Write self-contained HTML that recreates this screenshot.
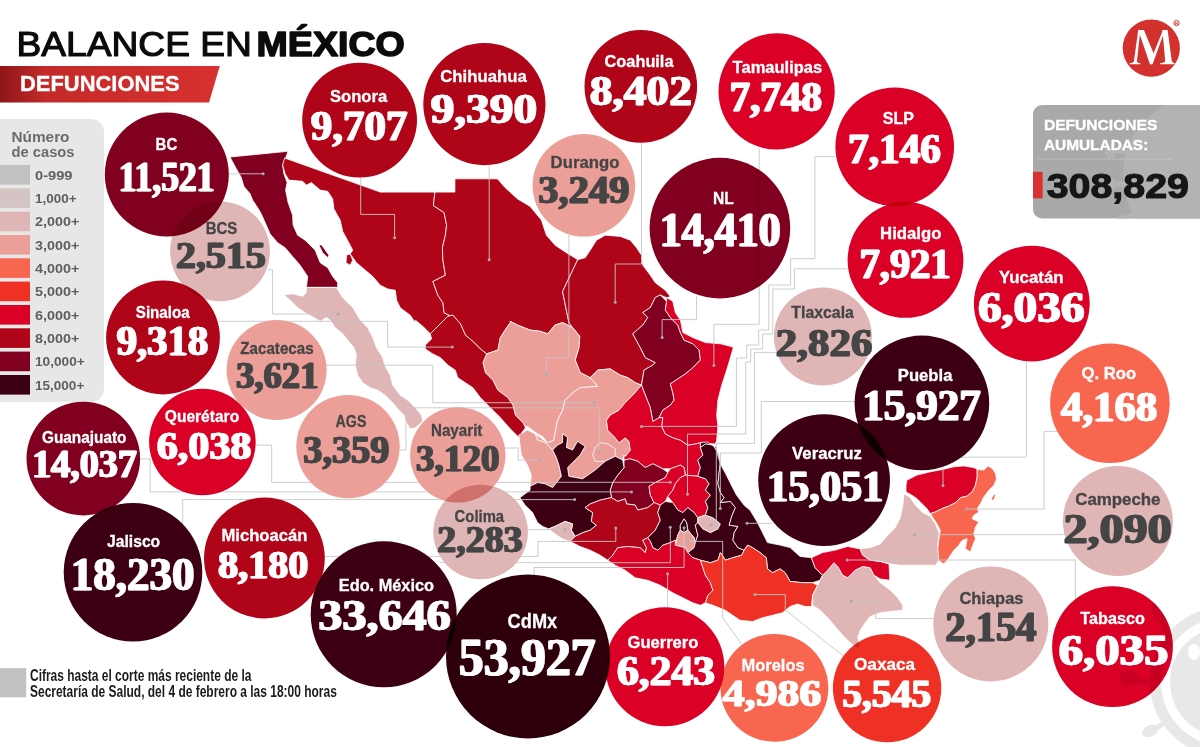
<!DOCTYPE html>
<html lang="es"><head><meta charset="utf-8"><title>Balance en México</title>
<style>
html,body{margin:0;padding:0;background:#fff;}
body{width:1200px;height:747px;overflow:hidden;font-family:"Liberation Sans",sans-serif;}
svg{display:block;}
.lab{font-family:"Liberation Sans",sans-serif;font-weight:bold;}
.num{font-family:"Liberation Serif",serif;font-weight:bold;}
.bub{mix-blend-mode:multiply;}
</style></head><body>
<svg width="1200" height="747" viewBox="0 0 1200 747">
<defs>
<linearGradient id="bg1" x1="0" x2="1" y1="0" y2="0"><stop offset="0" stop-color="#8f1518"/><stop offset="0.2" stop-color="#c32a29"/><stop offset="1" stop-color="#d8312f"/></linearGradient>
<mask id="lm" maskUnits="userSpaceOnUse" x="0" y="0" width="1200" height="747"><rect width="1200" height="747" fill="#fff"/><circle cx="166.8" cy="174.5" r="62" fill="#000"/><circle cx="220" cy="251.3" r="49.9" fill="#000"/><circle cx="359.6" cy="120.1" r="57.4" fill="#000"/><circle cx="484.4" cy="104.1" r="61.1" fill="#000"/><circle cx="640.8" cy="86.4" r="56.3" fill="#000"/><circle cx="776.6" cy="91.4" r="58.1" fill="#000"/><circle cx="583.9" cy="185.3" r="51.3" fill="#000"/><circle cx="719.9" cy="228.1" r="70.3" fill="#000"/><circle cx="894.7" cy="146.7" r="59.3" fill="#000"/><circle cx="905.5" cy="259.9" r="57.9" fill="#000"/><circle cx="1031.8" cy="303.6" r="57.9" fill="#000"/><circle cx="822.9" cy="336.4" r="49" fill="#000"/><circle cx="824.1" cy="480.1" r="65.9" fill="#000"/><circle cx="921.9" cy="402.9" r="67.3" fill="#000"/><circle cx="1109.9" cy="403.2" r="59.8" fill="#000"/><circle cx="1117.9" cy="521" r="55" fill="#000"/><circle cx="990.8" cy="623.9" r="57.5" fill="#000"/><circle cx="1112.5" cy="646.7" r="60.4" fill="#000"/><circle cx="887.1" cy="688.1" r="54.2" fill="#000"/><circle cx="774.4" cy="687.9" r="53.9" fill="#000"/><circle cx="664.8" cy="666.8" r="59.5" fill="#000"/><circle cx="163" cy="337.5" r="56.9" fill="#000"/><circle cx="276.6" cy="370" r="50" fill="#000"/><circle cx="202.4" cy="442" r="53.3" fill="#000"/><circle cx="348" cy="446.6" r="51.7" fill="#000"/><circle cx="457.8" cy="454.9" r="47.7" fill="#000"/><circle cx="480.6" cy="532" r="47.3" fill="#000"/><circle cx="83.3" cy="458.6" r="56.8" fill="#000"/><circle cx="133" cy="572.3" r="69.3" fill="#000"/><circle cx="264.4" cy="558" r="60.4" fill="#000"/><circle cx="383.7" cy="614.3" r="73" fill="#000"/><circle cx="528" cy="656.4" r="82" fill="#000"/></mask>
</defs>
<rect width="1200" height="747" fill="#fff"/>

<text x="16.5" y="56.4" font-size="34.6" fill="#0b0b0b" stroke="#0b0b0b" stroke-width="1.15" stroke-linejoin="round" textLength="235.4" lengthAdjust="spacingAndGlyphs">BALANCE EN</text>
<text x="256.5" y="56.4" font-size="34.6" font-weight="bold" fill="#0b0b0b" stroke="#0b0b0b" stroke-width="1.5" stroke-linejoin="round" textLength="148.3" lengthAdjust="spacingAndGlyphs">MÉXICO</text>
<path d="M0 66.1 H219.8 L209 102.5 H0 Z" fill="url(#bg1)"/>
<text x="20" y="91.3" font-size="21.7" font-weight="bold" fill="#fff" stroke="#fff" stroke-width="0.3" textLength="159.6" lengthAdjust="spacingAndGlyphs">DEFUNCIONES</text>

<path d="M0 119 H91 a13 13 0 0 1 13 13 V389 a13 13 0 0 1 -13 13 H0 Z" fill="#e7e7e7"/>
<text class="lab" x="11.5" y="142" font-size="14" fill="#6b6b6b" textLength="58" lengthAdjust="spacingAndGlyphs">Número</text>
<text class="lab" x="11.5" y="156.7" font-size="14" fill="#6b6b6b" textLength="63" lengthAdjust="spacingAndGlyphs">de casos</text>
<rect x="0" y="165.0" width="30" height="19.6" fill="#c1c1c1"/>
<text class="lab" x="35" y="179.7" font-size="13" fill="#5f5f5f" textLength="37.5" lengthAdjust="spacingAndGlyphs">0-999</text>
<rect x="0" y="188.3" width="30" height="19.6" fill="#d5c4c4"/>
<text class="lab" x="35" y="203.0" font-size="13" fill="#5f5f5f" textLength="41.5" lengthAdjust="spacingAndGlyphs">1,000+</text>
<rect x="0" y="211.7" width="30" height="19.6" fill="#e0b5b5"/>
<text class="lab" x="35" y="226.4" font-size="13" fill="#5f5f5f" textLength="44.3" lengthAdjust="spacingAndGlyphs">2,000+</text>
<rect x="0" y="235.0" width="30" height="19.6" fill="#ec9e99"/>
<text class="lab" x="35" y="249.7" font-size="13" fill="#5f5f5f" textLength="44.3" lengthAdjust="spacingAndGlyphs">3,000+</text>
<rect x="0" y="258.3" width="30" height="19.6" fill="#f8664f"/>
<text class="lab" x="35" y="273.0" font-size="13" fill="#5f5f5f" textLength="44.3" lengthAdjust="spacingAndGlyphs">4,000+</text>
<rect x="0" y="281.6" width="30" height="19.6" fill="#ee3124"/>
<text class="lab" x="35" y="296.3" font-size="13" fill="#5f5f5f" textLength="44.3" lengthAdjust="spacingAndGlyphs">5,000+</text>
<rect x="0" y="305.0" width="30" height="19.6" fill="#da0026"/>
<text class="lab" x="35" y="319.7" font-size="13" fill="#5f5f5f" textLength="44.3" lengthAdjust="spacingAndGlyphs">6,000+</text>
<rect x="0" y="328.3" width="30" height="19.6" fill="#b00418"/>
<text class="lab" x="35" y="343.0" font-size="13" fill="#5f5f5f" textLength="44.3" lengthAdjust="spacingAndGlyphs">8,000+</text>
<rect x="0" y="351.6" width="30" height="19.6" fill="#81001f"/>
<text class="lab" x="35" y="366.3" font-size="13" fill="#5f5f5f" textLength="49.7" lengthAdjust="spacingAndGlyphs">10,000+</text>
<rect x="0" y="375.0" width="30" height="19.6" fill="#3d0012"/>
<text class="lab" x="35" y="389.7" font-size="13" fill="#5f5f5f" textLength="49.3" lengthAdjust="spacingAndGlyphs">15,000+</text>
<g id="map"><polygon points="230.0,157.0 288.1,151.3 285.6,158.0 282.6,165.0 283.9,173.8 287.1,182.6 285.6,190.1 288.1,202.6 292.6,215.1 293.1,225.1 297.6,235.2 305.1,240.2 315.2,250.2 320.2,262.7 327.7,267.7 332.7,276.5 337.7,282.7 337.7,287.3 306.4,287.3 307.7,276.5 300.1,265.2 292.6,256.5 285.1,247.7 277.6,242.7 270.1,233.9 265.1,222.6 261.3,213.9 257.6,207.6 252.6,200.1 250.1,193.8 243.8,186.3 241.3,177.6 236.3,168.8" fill="#81001f" stroke="#fff" stroke-width="0.8" stroke-linejoin="round"/>
<polygon points="284.6,158.0 380.3,192.1 434.9,192.1 433.4,205.6 444.1,212.6 446.6,225.1 445.4,235.2 442.4,247.7 442.9,260.2 445.4,275.2 432.9,281.5 437.9,295.3 442.9,302.8 444.1,312.8 449.2,315.3 447.8,316.3 430.3,333.8 422.8,326.3 415.3,320.1 415.3,322.8 410.3,315.3 400.3,307.8 396.6,300.3 395.3,290.3 387.8,289.0 380.3,285.3 372.8,276.5 365.3,270.2 356.5,262.7 350.2,253.9 352.7,250.2 350.2,245.2 342.7,231.4 340.2,220.1 333.9,208.9 332.7,198.9 327.7,191.3 320.2,190.1 311.4,182.6 306.4,185.1 302.6,181.3 288.9,180.1 285.1,173.8 282.6,165.0" fill="#b00418" stroke="#fff" stroke-width="0.8" stroke-linejoin="round"/>
<polygon points="346.5,255.2 350.2,253.9 352.7,260.2 350.2,265.2 346.0,262.7" fill="#b00418" stroke="#fff" stroke-width="0.8" stroke-linejoin="round"/>
<polygon points="318.9,245.2 321.4,244.7 328.9,255.2 327.7,257.7 322.7,252.7" fill="#81001f" stroke="#fff" stroke-width="0.8" stroke-linejoin="round"/>
<polygon points="434.9,192.1 454.9,192.1 454.9,178.8 498.0,178.8 497.5,178.8 505.0,187.6 517.6,198.9 530.1,206.4 541.4,220.1 546.4,235.2 555.1,245.2 566.4,252.7 577.7,259.7 562.6,291.5 568.9,322.6 572.7,327.6 562.6,322.6 555.1,325.1 547.6,333.8 540.1,331.3 530.1,330.1 517.6,325.1 510.1,321.3 510.4,322.6 506.7,327.6 500.4,337.6 497.9,350.1 486.6,353.9 480.4,348.9 472.9,341.4 465.4,335.1 460.4,323.8 452.8,315.1 447.8,316.3 449.2,315.3 444.1,312.8 442.9,302.8 437.9,295.3 432.9,281.5 445.4,275.2 442.9,260.2 442.4,247.7 445.4,235.2 446.6,225.1 444.1,212.6 433.4,205.6" fill="#b00418" stroke="#fff" stroke-width="0.8" stroke-linejoin="round"/>
<polygon points="577.7,259.7 585.2,257.7 590.2,250.2 596.5,240.2 605.2,235.2 620.2,236.4 630.3,240.2 636.5,247.7 641.5,255.2 642.8,265.2 650.3,275.2 655.3,282.7 665.3,290.3 670.3,296.5 666.6,297.8 660.3,295.0 655.3,297.5 650.3,307.5 642.8,312.5 647.8,317.5 642.8,325.1 632.8,333.8 640.3,347.6 645.3,357.6 655.3,362.6 652.8,365.1 644.0,370.1 641.5,385.2 635.3,382.7 627.8,377.7 620.2,375.1 610.2,368.9 597.7,370.1 590.2,377.7 580.2,372.6 575.2,360.1 578.9,347.6 579.7,336.3 572.7,327.6 568.9,322.6 562.6,291.5" fill="#b00418" stroke="#fff" stroke-width="0.8" stroke-linejoin="round"/>
<polygon points="660.3,295.0 666.6,301.3 665.3,310.0 670.3,317.5 677.8,325.1 680.4,332.6 684.1,340.1 692.9,343.8 699.1,350.1 700.4,360.1 692.9,367.6 685.4,373.9 677.8,378.9 670.3,383.9 672.8,392.7 674.1,400.2 670.3,405.2 662.8,410.2 659.1,417.7 652.8,421.5 650.3,407.7 645.3,395.2 641.5,385.2 644.0,370.1 652.8,365.1 655.3,362.6 645.3,357.6 640.3,347.6 632.8,333.8 642.8,325.1 647.8,317.5 642.8,312.5 650.3,307.5 655.3,297.5" fill="#81001f" stroke="#fff" stroke-width="0.8" stroke-linejoin="round"/>
<polygon points="666.6,297.5 672.8,301.3 675.3,312.5 680.4,320.1 682.9,332.6 692.9,337.6 705.4,342.6 720.4,343.8 730.4,346.3 733.4,347.6 730.4,357.6 726.7,370.1 721.7,385.2 717.9,400.2 716.7,415.2 717.9,426.5 716.7,440.3 715.4,444.0 700.4,442.8 695.4,444.0 687.9,445.3 680.4,440.3 672.8,437.8 665.3,434.0 661.6,426.5 662.8,417.7 659.1,417.7 662.8,410.2 670.3,405.2 674.1,400.2 672.8,392.7 670.3,383.9 677.8,378.9 685.4,373.9 692.9,367.6 700.4,360.1 699.1,350.1 692.9,343.8 684.1,340.1 680.4,332.6 677.8,325.1 670.3,317.5 665.3,310.0 666.6,301.3" fill="#da0026" stroke="#fff" stroke-width="0.8" stroke-linejoin="round"/>
<polygon points="510.1,321.3 517.6,325.1 530.1,330.1 540.1,331.3 547.6,333.8 555.1,325.1 562.6,322.6 572.7,327.6 579.7,336.3 578.9,347.6 575.2,360.1 580.2,372.6 590.2,377.7 597.7,386.4 580.2,387.7 572.7,392.7 565.1,400.2 562.6,410.2 557.6,420.2 555.1,432.7 553.9,440.3 547.6,442.8 542.6,436.5 537.6,434.0 532.6,430.2 527.6,426.5 522.6,426.5 525.5,427.8 523.0,422.7 515.4,415.2 512.9,405.2 507.9,397.7 497.9,390.2 492.9,380.2 485.4,372.7 482.9,362.6 486.6,353.9 497.9,350.1 500.4,337.6 506.7,327.6 510.4,322.6" fill="#ec9e99" stroke="#fff" stroke-width="0.8" stroke-linejoin="round"/>
<polygon points="447.8,316.3 452.8,315.1 460.4,323.8 465.4,335.1 472.9,341.4 480.4,348.9 486.6,353.9 482.9,362.6 485.4,372.7 492.9,380.2 497.9,390.2 507.9,397.7 512.9,405.2 515.4,415.2 523.0,422.7 525.5,427.8 521.7,432.8 523.0,440.3 518.0,436.5 510.4,429.0 500.4,417.7 490.4,407.7 480.4,397.7 472.9,387.7 465.4,382.7 457.8,377.7 455.3,370.2 447.8,365.1 440.3,357.6 432.8,353.9 425.3,348.9 425.3,345.1 431.6,338.9 430.3,333.8" fill="#b00418" stroke="#fff" stroke-width="0.8" stroke-linejoin="round"/>
<polygon points="306.3,287.5 336.4,287.5 342.6,297.5 352.7,307.5 360.2,320.1 367.7,327.6 372.7,337.6 376.5,347.6 382.7,357.6 385.2,366.4 390.2,375.2 392.7,385.2 400.2,395.2 407.8,400.2 415.3,407.7 421.5,415.2 422.8,421.5 415.3,427.8 410.3,429.0 406.5,422.7 404.0,415.2 399.0,410.2 392.7,402.7 385.2,395.2 377.7,390.2 370.2,387.7 362.7,382.7 357.7,375.2 355.2,365.1 356.4,355.1 353.9,347.6 347.7,340.1 342.6,333.8 335.1,327.6 330.1,320.1 326.4,317.6 320.1,321.3 313.8,317.6 305.1,312.6 297.6,307.5 290.1,300.0 283.8,295.0 292.6,293.8 302.6,296.3 306.3,292.5" fill="#e0b5b5" stroke="#fff" stroke-width="0.8" stroke-linejoin="round"/>
<polygon points="597.7,370.1 610.2,368.9 620.2,375.1 627.8,377.7 635.3,382.7 641.5,385.2 632.8,395.2 625.3,402.7 619.0,410.2 610.2,415.2 606.5,420.2 607.7,430.2 615.2,437.8 619.0,442.8 625.3,437.8 629.0,441.5 630.3,450.3 625.3,456.5 624.0,455.0 622.7,460.1 615.2,456.3 605.2,461.3 595.2,470.1 582.6,478.8 568.9,476.3 567.6,467.6 572.6,462.6 580.1,455.0 585.1,446.3 577.6,441.3 572.6,450.0 566.4,447.5 567.6,437.5 562.6,433.8 562.6,442.5 557.6,445.0 552.6,450.0 545.1,442.5 537.6,440.0 535.1,433.8 547.6,442.8 553.9,440.3 555.1,432.7 557.6,420.2 562.6,410.2 565.1,400.2 572.7,392.7 580.2,387.7 597.7,386.4 590.2,377.7" fill="#ec9e99" stroke="#fff" stroke-width="0.8" stroke-linejoin="round"/>
<polygon points="600.2,442.5 607.7,443.8 615.2,448.8 615.2,456.3 605.2,461.3 595.2,461.3 592.7,455.0 595.2,447.5" fill="#ec9e99" stroke="#fff" stroke-width="0.8" stroke-linejoin="round"/>
<polygon points="518.8,435.0 527.5,430.0 535.1,433.8 537.6,440.0 545.1,442.5 552.6,450.0 556.3,457.5 558.9,465.1 561.4,476.3 552.6,487.6 545.1,483.8 537.6,482.6 530.1,486.3 531.3,475.1 527.5,465.1 521.3,455.0 520.0,445.0" fill="#ec9e99" stroke="#fff" stroke-width="0.8" stroke-linejoin="round"/>
<polygon points="641.5,385.2 645.3,395.2 650.3,407.7 652.8,421.5 659.1,417.7 662.8,417.7 661.6,426.5 665.3,434.0 672.8,437.8 680.4,440.3 687.9,445.3 695.4,444.0 700.4,442.8 700.4,447.5 702.9,455.0 697.8,460.1 700.4,467.6 697.8,476.3 685.3,475.1 684.1,467.6 680.3,465.1 670.3,468.8 662.8,468.8 652.8,463.8 645.3,467.6 637.7,461.3 630.2,458.8 624.0,460.1 624.0,455.0 625.3,456.5 630.3,450.3 629.0,441.5 625.3,437.8 619.0,442.8 615.2,437.8 607.7,430.2 606.5,420.2 610.2,415.2 619.0,410.2 625.3,402.7 632.8,395.2" fill="#da0026" stroke="#fff" stroke-width="0.8" stroke-linejoin="round"/>
<polygon points="624.0,460.1 630.2,458.8 637.7,461.3 645.3,467.6 652.8,463.8 662.8,468.8 667.8,472.6 665.3,477.6 655.3,482.6 649.0,486.3 650.3,495.1 654.0,502.6 647.8,507.6 637.7,510.1 635.2,505.1 626.5,503.9 625.2,498.9 617.7,501.4 611.4,497.6 610.2,490.1 612.7,482.6 617.7,475.1 624.0,467.6" fill="#81001f" stroke="#fff" stroke-width="0.8" stroke-linejoin="round"/>
<polygon points="667.8,472.6 670.3,468.8 680.3,465.1 684.1,467.6 685.3,475.1 680.3,477.6 675.3,483.8 672.8,490.1 667.8,496.4 665.3,501.4 660.3,505.1 654.0,502.6 650.3,495.1 649.0,486.3 655.3,482.6 665.3,477.6" fill="#da0026" stroke="#fff" stroke-width="0.8" stroke-linejoin="round"/>
<polygon points="685.3,475.1 697.8,476.3 705.4,478.8 709.1,483.8 705.4,490.1 710.4,495.1 705.4,501.4 707.9,507.6 705.4,515.1 697.8,517.7 694.1,512.6 687.8,507.6 682.8,512.6 677.8,510.1 672.8,502.6 667.8,496.4 672.8,490.1 675.3,483.8 680.3,477.6" fill="#da0026" stroke="#fff" stroke-width="0.8" stroke-linejoin="round"/>
<polygon points="562.6,433.8 567.6,437.5 566.4,447.5 572.6,450.0 577.6,441.3 585.1,446.3 580.1,455.0 572.6,462.6 567.6,467.6 568.9,476.3 582.6,478.8 595.2,470.1 605.2,461.3 615.2,456.3 622.7,460.1 624.0,467.6 617.7,475.1 612.7,482.6 610.2,490.1 611.4,497.6 600.2,500.1 590.2,503.9 585.1,507.6 592.7,512.6 591.4,521.4 596.4,525.2 590.2,530.2 582.6,532.7 575.1,536.4 571.4,530.2 572.6,523.9 565.1,521.4 557.6,525.2 548.8,528.9 542.6,526.4 537.6,522.7 532.6,512.6 525.0,505.1 520.0,497.6 530.1,490.1 530.1,486.3 537.6,482.6 545.1,483.8 552.6,487.6 561.4,476.3 558.9,465.1 556.3,457.5 552.6,450.0 557.6,445.0 562.6,442.5" fill="#3d0012" stroke="#fff" stroke-width="0.8" stroke-linejoin="round"/>
<polygon points="557.6,525.2 565.1,521.4 572.6,523.9 571.4,530.2 575.1,536.4 570.1,541.4 562.6,538.9 555.1,533.9 548.8,528.9" fill="#e0b5b5" stroke="#fff" stroke-width="0.8" stroke-linejoin="round"/>
<polygon points="585.1,507.6 590.2,503.9 600.2,500.1 611.4,497.6 617.7,501.4 625.2,498.9 626.5,503.9 635.2,505.1 637.7,510.1 647.8,507.6 654.0,502.6 660.3,505.1 657.8,512.6 660.3,520.2 655.3,530.2 647.8,537.7 642.7,540.2 646.5,547.7 645.3,552.7 640.2,547.7 627.7,546.5 617.7,547.7 612.7,555.2 607.7,560.2 600.2,555.2 590.2,550.2 580.1,546.5 570.1,541.4 575.1,536.4 582.6,532.7 590.2,530.2 596.4,525.2 591.4,521.4 592.7,512.6" fill="#b00418" stroke="#fff" stroke-width="0.8" stroke-linejoin="round"/>
<polygon points="665.3,501.4 672.8,502.6 677.8,510.1 682.8,512.6 687.8,507.6 694.1,512.6 697.8,517.7 697.8,522.7 695.3,525.2 697.8,535.2 695.3,542.7 694.1,537.7 687.8,530.2 686.6,522.7 684.1,518.9 680.3,525.2 680.3,530.2 677.8,535.2 675.3,545.2 675.3,540.2 670.3,542.7 662.8,545.2 657.8,550.2 652.8,547.7 650.3,541.4 647.8,537.7 655.3,530.2 660.3,520.2 657.8,512.6 660.3,505.1" fill="#3d0012" stroke="#fff" stroke-width="0.8" stroke-linejoin="round"/>
<polygon points="684.1,518.9 686.6,522.7 687.8,530.2 684.1,532.7 680.3,530.2 680.3,525.2" fill="#2e000c" stroke="#fff" stroke-width="0.8" stroke-linejoin="round"/>
<polygon points="677.8,535.2 680.3,530.2 684.1,532.7 687.8,530.2 694.1,537.7 695.3,542.7 694.1,547.7 687.8,552.7 685.3,547.7 675.3,545.2" fill="#ec9e99" stroke="#fff" stroke-width="0.8" stroke-linejoin="round"/>
<polygon points="697.8,517.7 705.4,515.1 712.9,517.7 720.4,523.9 717.9,528.9 710.4,532.7 702.9,528.9 697.8,522.7" fill="#e0b5b5" stroke="#fff" stroke-width="0.8" stroke-linejoin="round"/>
<polygon points="705.4,443.8 712.9,445.0 717.9,452.5 720.4,462.6 719.1,472.6 717.9,483.8 720.4,492.6 724.1,497.6 720.4,502.6 730.4,501.4 735.4,507.6 731.7,516.4 729.2,525.2 737.9,526.4 734.2,532.7 732.9,540.2 737.9,547.7 744.2,550.2 741.7,555.2 732.9,557.7 725.4,560.2 720.4,552.7 717.9,560.2 710.4,562.7 700.4,560.2 692.8,557.7 687.8,552.7 694.1,547.7 695.3,542.7 697.8,535.2 695.3,525.2 697.8,522.7 702.9,528.9 710.4,532.7 717.9,528.9 720.4,523.9 712.9,517.7 705.4,515.1 707.9,507.6 705.4,501.4 710.4,495.1 705.4,490.1 709.1,483.8 705.4,478.8 697.8,476.3 700.4,467.6 697.8,460.1 702.9,455.0 700.4,447.5" fill="#3d0012" stroke="#fff" stroke-width="0.8" stroke-linejoin="round"/>
<polygon points="700.4,442.5 706.9,442.0 711.6,444.5 716.4,447.5 717.6,454.8 720.4,464.1 725.6,473.6 730.9,484.3 736.4,494.9 744.4,505.6 750.0,510.1 757.5,522.6 762.5,532.6 767.5,542.6 780.1,545.1 790.1,547.6 800.1,556.4 811.4,557.7 815.1,567.7 822.6,575.2 820.1,580.2 812.6,582.7 802.6,582.7 790.1,581.4 785.1,572.7 780.1,568.9 772.6,572.7 767.5,568.9 766.3,557.7 760.0,552.6 752.5,547.6 747.5,545.1 744.2,550.2 737.9,547.7 732.9,540.2 734.2,532.7 737.9,526.4 729.2,525.2 731.7,516.4 735.4,507.6 730.4,501.4 720.4,502.6 724.1,497.6 720.4,492.6 717.9,483.8 719.1,472.6 720.4,462.6 717.9,452.5 712.9,445.0 705.4,443.8 700.4,447.5" fill="#3d0012" stroke="#fff" stroke-width="0.8" stroke-linejoin="round"/>
<polygon points="607.7,560.2 612.7,555.2 617.7,547.7 627.7,546.5 640.2,547.7 645.3,552.7 646.5,547.7 642.7,540.2 647.8,537.7 650.3,541.4 652.8,547.7 657.8,550.2 662.8,545.2 670.3,542.7 675.3,540.2 675.3,545.2 685.3,547.7 687.8,552.7 692.8,557.7 700.4,560.2 702.9,567.7 705.4,575.3 710.4,582.8 712.9,590.3 707.9,595.3 705.4,602.8 700.4,605.3 692.8,602.8 682.8,597.8 672.8,592.8 660.3,585.3 647.8,580.3 635.2,577.8 625.2,570.2 615.2,565.2" fill="#da0026" stroke="#fff" stroke-width="0.8" stroke-linejoin="round"/>
<polygon points="702.9,567.7 700.4,560.2 710.4,562.7 717.9,560.2 720.4,552.7 725.4,560.2 732.9,557.7 741.7,555.2 744.2,550.2 747.9,545.2 752.5,547.6 760.0,552.6 766.3,557.7 767.5,568.9 772.6,572.7 780.1,568.9 785.1,572.7 790.1,581.4 802.6,582.7 812.6,582.7 817.6,585.2 812.6,595.2 811.4,606.5 805.1,606.5 797.6,604.0 790.1,606.5 782.6,612.7 772.6,615.3 762.5,617.8 752.5,621.5 740.0,620.3 725.4,610.3 712.9,605.3 705.4,602.8 707.9,595.3 712.9,590.3 710.4,582.8 705.4,575.3" fill="#ee3124" stroke="#fff" stroke-width="0.8" stroke-linejoin="round"/>
<polygon points="817.6,585.2 822.6,575.2 827.7,570.2 833.9,562.7 837.7,566.4 842.7,575.2 847.7,577.7 855.2,570.2 862.7,566.4 870.2,567.7 874.0,575.2 880.2,582.7 890.3,590.2 897.8,597.7 902.8,605.2 902.8,610.2 890.3,611.5 880.2,612.7 870.2,616.5 865.2,622.8 860.2,630.3 857.7,637.8 860.2,645.3 857.7,649.1 850.2,642.8 842.7,635.3 835.2,626.5 827.7,617.8 820.1,610.2 812.6,605.2 812.6,595.2" fill="#e0b5b5" stroke="#fff" stroke-width="0.8" stroke-linejoin="round"/>
<polygon points="811.4,557.7 822.6,552.6 835.2,550.1 847.7,546.4 860.2,548.9 862.7,555.1 870.2,560.2 880.2,561.4 889.0,563.9 889.8,580.2 880.2,578.9 874.0,575.2 870.2,567.7 862.7,566.4 855.2,570.2 847.7,577.7 842.7,575.2 837.7,566.4 833.9,562.7 827.7,570.2 822.6,575.2 815.1,567.7" fill="#da0026" stroke="#fff" stroke-width="0.8" stroke-linejoin="round"/>
<polygon points="904.0,493.8 910.3,497.5 915.3,505.1 922.8,512.6 930.3,516.3 935.3,523.8 939.1,532.6 937.8,545.1 939.1,560.2 935.3,565.2 915.3,565.2 900.3,565.2 889.8,563.9 880.2,561.4 870.2,560.2 862.7,555.1 860.2,548.9 870.2,547.6 880.2,543.9 887.8,535.1 895.3,527.6 900.3,517.6 902.8,505.1" fill="#e0b5b5" stroke="#fff" stroke-width="0.8" stroke-linejoin="round"/>
<polygon points="906.9,480.2 916.9,475.1 930.3,471.8 943.7,469.3 953.7,466.8 963.8,465.9 973.8,467.6 977.2,469.3 977.2,476.8 975.5,485.2 972.1,491.9 967.1,496.1 960.4,497.7 955.4,502.8 948.7,506.1 942.0,508.6 935.3,512.0 930.3,513.6 926.9,508.6 921.9,503.6 916.9,498.6 911.9,495.2 906.0,491.9 906.0,485.2" fill="#da0026" stroke="#fff" stroke-width="0.8" stroke-linejoin="round"/>
<polygon points="977.2,469.3 983.8,470.1 988.0,465.9 992.2,468.5 995.6,473.5 996.4,479.3 993.9,485.2 988.9,490.2 983.8,496.9 980.5,503.6 977.2,508.6 978.8,512.0 973.8,515.3 972.1,518.7 978.8,522.0 975.5,527.0 973.8,533.7 975.5,538.7 972.1,547.1 970.5,552.1 965.4,548.8 967.1,538.7 962.1,540.4 958.7,545.4 953.7,550.5 950.4,555.5 947.0,560.5 943.7,563.8 938.7,560.5 937.8,548.8 938.7,540.4 940.3,530.4 937.0,523.7 933.6,518.7 930.3,513.6 935.3,512.0 942.0,508.6 948.7,506.1 955.4,502.8 960.4,497.7 967.1,496.1 972.1,491.9 975.5,485.2 977.2,476.8" fill="#f8664f" stroke="#fff" stroke-width="0.8" stroke-linejoin="round"/>
<polygon points="991.4,498.6 993.9,494.4 995.9,494.4 993.9,499.4 992.2,500.6" fill="#f8664f" stroke="#fff" stroke-width="0.8" stroke-linejoin="round"/>
</g>
<g id="lines2" fill="none" stroke="#c6c6c6" stroke-width="0.9" mask="url(#lm)"><path d="M227.0 173.8 L263.1 173.8"/><path d="M360.7 176.0 L360.7 214.4 L394.6 214.4 L394.6 237.7"/><path d="M489.2 165.0 L489.2 259.7"/><path d="M268.0 269.7 L272.6 269.7 L272.6 314.0 L338.2 314.0"/><path d="M641.5 143.0 L641.5 264.0 L615.2 264.0 L615.2 302.3"/><path d="M568.9 235.0 L568.9 357.6 L546.4 357.6 L546.4 374.6"/><path d="M696.6 296.0 L696.6 319.6 L662.1 319.6 L662.1 337.6"/><path d="M759.2 148.0 L759.2 324.3 L713.9 324.3 L713.9 365.5"/><path d="M219.0 321.3 L387.7 321.3 L387.7 347.1 L452.3 347.1"/><path d="M326.0 365.2 L432.8 365.2 L432.8 402.7 L594.2 402.7"/><path d="M399.7 450.0 L405.9 450.0 L405.9 407.8 L599.7 407.8 L599.7 451.5"/><path d="M503.7 448.0 L518.2 448.0 L518.2 460.0 L539.4 460.0"/><path d="M250.0 445.1 L271.7 445.1 L271.7 482.3 L670.3 482.3"/><path d="M135.0 458.9 L150.2 458.9 L150.2 491.9 L631.5 491.9"/><path d="M182.7 530.0 L182.7 499.6 L574.6 499.6"/><path d="M527.2 529.6 L565.0 529.6"/><path d="M320.0 556.4 L538.0 556.4 L538.0 541.4 L615.8 541.4 L615.8 528.0"/><path d="M440.0 562.7 L670.3 562.7 L670.3 527.2"/><path d="M534.0 580.0 L534.0 567.5 L684.1 567.5 L684.1 527.7"/><path d="M667.6 612.0 L667.6 573.8"/><path d="M745.0 648.8 L722.7 617.6 L722.7 541.4 L687.8 541.4"/><path d="M846.0 658.1 L785.3 610.1 L785.3 594.6 L754.8 594.6"/><path d="M772.6 523.3 L747.0 523.3"/><path d="M1075.3 606.0 L1075.3 560.0 L847.2 560.0"/><path d="M940.0 618.6 L875.5 618.6 L875.5 601.3 L851.2 601.3"/><path d="M1070.0 534.6 L914.5 534.6"/><path d="M1060.0 431.4 L1044.0 431.4 L1044.0 509.0 L966.4 509.0"/><path d="M1026.3 355.0 L1026.3 457.2 L943.0 457.2 L943.0 485.5"/><path d="M835.0 156.6 L814.9 156.6 L814.9 258.7 L790.6 258.7 L790.6 285.0 L768.8 285.0 L768.8 330.0 L758.7 330.0 L758.7 345.0 L746.7 345.0 L746.7 358.0 L736.4 358.0 L736.4 426.4 L641.5 426.4"/><path d="M850.5 268.8 L794.5 268.8 L794.5 289.0 L772.8 289.0 L772.8 334.0 L762.7 334.0 L762.7 349.0 L750.7 349.0 L750.7 362.0 L745.8 362.0 L745.8 434.1 L687.5 434.1 L687.5 494.3"/><path d="M775.6 352.4 L754.5 352.4 L754.5 443.4 L716.3 443.4 L716.3 524.7 L711.1 524.7"/><path d="M860.0 401.5 L761.3 401.5 L761.3 453.0 L720.3 453.0 L720.3 508.4"/><circle cx="263.1" cy="173.8" r="1.5" fill="#a8acac" stroke="none"/><circle cx="394.6" cy="237.7" r="1.5" fill="#a8acac" stroke="none"/><circle cx="489.2" cy="259.7" r="1.5" fill="#a8acac" stroke="none"/><circle cx="338.2" cy="314.0" r="1.5" fill="#a8acac" stroke="none"/><circle cx="615.2" cy="302.3" r="1.5" fill="#a8acac" stroke="none"/><circle cx="546.4" cy="374.6" r="1.5" fill="#a8acac" stroke="none"/><circle cx="662.1" cy="337.6" r="1.5" fill="#a8acac" stroke="none"/><circle cx="713.9" cy="365.5" r="1.5" fill="#a8acac" stroke="none"/><circle cx="452.3" cy="347.1" r="1.5" fill="#a8acac" stroke="none"/><circle cx="594.2" cy="402.7" r="1.5" fill="#a8acac" stroke="none"/><circle cx="599.7" cy="451.5" r="1.5" fill="#a8acac" stroke="none"/><circle cx="539.4" cy="460.0" r="1.5" fill="#a8acac" stroke="none"/><circle cx="670.3" cy="482.3" r="1.5" fill="#a8acac" stroke="none"/><circle cx="631.5" cy="491.9" r="1.5" fill="#a8acac" stroke="none"/><circle cx="574.6" cy="499.6" r="1.5" fill="#a8acac" stroke="none"/><circle cx="565.0" cy="529.6" r="1.5" fill="#a8acac" stroke="none"/><circle cx="615.8" cy="528.0" r="1.5" fill="#a8acac" stroke="none"/><circle cx="670.3" cy="527.2" r="1.5" fill="#a8acac" stroke="none"/><circle cx="684.1" cy="527.7" r="1.5" fill="#a8acac" stroke="none"/><circle cx="667.6" cy="573.8" r="1.5" fill="#a8acac" stroke="none"/><circle cx="687.8" cy="541.4" r="1.5" fill="#a8acac" stroke="none"/><circle cx="754.8" cy="594.6" r="1.5" fill="#a8acac" stroke="none"/><circle cx="747.0" cy="523.3" r="1.5" fill="#a8acac" stroke="none"/><circle cx="847.2" cy="560.0" r="1.5" fill="#a8acac" stroke="none"/><circle cx="851.2" cy="601.3" r="1.5" fill="#a8acac" stroke="none"/><circle cx="914.5" cy="534.6" r="1.5" fill="#a8acac" stroke="none"/><circle cx="966.4" cy="509.0" r="1.5" fill="#a8acac" stroke="none"/><circle cx="943.0" cy="485.5" r="1.5" fill="#a8acac" stroke="none"/><circle cx="641.5" cy="426.4" r="1.5" fill="#a8acac" stroke="none"/><circle cx="687.5" cy="494.3" r="1.5" fill="#a8acac" stroke="none"/><circle cx="711.1" cy="524.7" r="1.5" fill="#a8acac" stroke="none"/><circle cx="720.3" cy="508.4" r="1.5" fill="#a8acac" stroke="none"/></g>
<g id="bubbles">
<circle class="bub" cx="166.8" cy="174.5" r="62" fill="#81001f"/>
<circle class="bub" cx="220" cy="251.3" r="49.9" fill="#e0b5b5"/>
<circle class="bub" cx="359.6" cy="120.1" r="57.4" fill="#b00418"/>
<circle class="bub" cx="484.4" cy="104.1" r="61.1" fill="#b00418"/>
<circle class="bub" cx="640.8" cy="86.4" r="56.3" fill="#b00418"/>
<circle class="bub" cx="776.6" cy="91.4" r="58.1" fill="#da0026"/>
<circle class="bub" cx="583.9" cy="185.3" r="51.3" fill="#ec9e99"/>
<circle class="bub" cx="719.9" cy="228.1" r="70.3" fill="#81001f"/>
<circle class="bub" cx="894.7" cy="146.7" r="59.3" fill="#da0026"/>
<circle class="bub" cx="905.5" cy="259.9" r="57.9" fill="#da0026"/>
<circle class="bub" cx="1031.8" cy="303.6" r="57.9" fill="#da0026"/>
<circle class="bub" cx="822.9" cy="336.4" r="49" fill="#e0b5b5"/>
<circle class="bub" cx="824.1" cy="480.1" r="65.9" fill="#3d0012"/>
<circle class="bub" cx="921.9" cy="402.9" r="67.3" fill="#3d0012"/>
<circle class="bub" cx="1109.9" cy="403.2" r="59.8" fill="#f8664f"/>
<circle class="bub" cx="1117.9" cy="521" r="55" fill="#e0b5b5"/>
<circle class="bub" cx="990.8" cy="623.9" r="57.5" fill="#e0b5b5"/>
<circle class="bub" cx="1112.5" cy="646.7" r="60.4" fill="#da0026"/>
<circle class="bub" cx="887.1" cy="688.1" r="54.2" fill="#ee3124"/>
<circle class="bub" cx="774.4" cy="687.9" r="53.9" fill="#f8664f"/>
<circle class="bub" cx="664.8" cy="666.8" r="59.5" fill="#da0026"/>
<circle class="bub" cx="163" cy="337.5" r="56.9" fill="#b00418"/>
<circle class="bub" cx="276.6" cy="370" r="50" fill="#ec9e99"/>
<circle class="bub" cx="202.4" cy="442" r="53.3" fill="#da0026"/>
<circle class="bub" cx="348" cy="446.6" r="51.7" fill="#ec9e99"/>
<circle class="bub" cx="457.8" cy="454.9" r="47.7" fill="#ec9e99"/>
<circle class="bub" cx="480.6" cy="532" r="47.3" fill="#e0b5b5"/>
<circle class="bub" cx="83.3" cy="458.6" r="56.8" fill="#81001f"/>
<circle class="bub" cx="133" cy="572.3" r="69.3" fill="#3d0012"/>
<circle class="bub" cx="264.4" cy="558" r="60.4" fill="#b00418"/>
<circle class="bub" cx="383.7" cy="614.3" r="73" fill="#3d0012"/>
<circle class="bub" cx="528" cy="656.4" r="82" fill="#2e000c"/>
</g>
<clipPath id="tb"><circle cx="1112.5" cy="646.7" r="60.4"/></clipPath>
<g style="mix-blend-mode:multiply" fill="#e8e8e8" stroke="none">
<circle cx="1225" cy="682" r="69.5" fill="none" stroke="#e8e8e8" stroke-width="11"/>
<circle cx="1225" cy="682" r="55"/>
<path d="M1166 722 L1156 728" stroke="#e8e8e8" stroke-width="5" stroke-linecap="round" fill="none"/>
<ellipse cx="1150" cy="731" rx="8.5" ry="5.5" transform="rotate(-25 1150 731)"/>
<g clip-path="url(#tb)" fill="#ececec">
<path d="M1170 640 L1160 612 M1152 682 L1136 680" stroke="#ececec" stroke-width="6" stroke-linecap="round" fill="none"/>
<ellipse cx="1160" cy="612" rx="7" ry="14" transform="rotate(-20 1160 612)"/>
<ellipse cx="1129" cy="678" rx="10" ry="7.5"/>
</g>
</g>
<ellipse cx="1194" cy="652" rx="6" ry="8" fill="#fff"/>

<clipPath id="nlc"><circle cx="719.9" cy="228.1" r="70.3"/></clipPath><path d="M758.3 150 V300" stroke="#65001a" stroke-width="0.9" clip-path="url(#nlc)"/>
<g id="btext">
<text class="lab" x="155.6" y="149.6" font-size="16.3" fill="#fff" stroke="#fff" stroke-width="0.3" textLength="21.6" lengthAdjust="spacingAndGlyphs">BC</text>
<text class="num" x="118.0" y="190.7" font-size="42.3" fill="#fff" stroke="#fff" stroke-width="0.35" textLength="95.6" lengthAdjust="spacingAndGlyphs">11,521</text>
<text class="num" x="118.8" y="190.7" font-size="42.3" fill="#fff" stroke="#fff" stroke-width="0.35" textLength="95.6" lengthAdjust="spacingAndGlyphs">11,521</text>
<text class="num" x="119.6" y="190.7" font-size="42.3" fill="#fff" stroke="#fff" stroke-width="0.35" textLength="95.6" lengthAdjust="spacingAndGlyphs">11,521</text>
<text class="lab" x="205.7" y="234" font-size="16.3" fill="#454545" stroke="#454545" stroke-width="0.3" textLength="31.6" lengthAdjust="spacingAndGlyphs">BCS</text>
<text class="num" x="175.2" y="267.8" font-size="38.8" fill="#454545" stroke="#454545" stroke-width="0.35" textLength="89.8" lengthAdjust="spacingAndGlyphs">2,515</text>
<text class="num" x="176.0" y="267.8" font-size="38.8" fill="#454545" stroke="#454545" stroke-width="0.35" textLength="89.8" lengthAdjust="spacingAndGlyphs">2,515</text>
<text class="num" x="176.8" y="267.8" font-size="38.8" fill="#454545" stroke="#454545" stroke-width="0.35" textLength="89.8" lengthAdjust="spacingAndGlyphs">2,515</text>
<text class="lab" x="330.0" y="101.9" font-size="16.3" fill="#fff" stroke="#fff" stroke-width="0.3" textLength="57.2" lengthAdjust="spacingAndGlyphs">Sonora</text>
<text class="num" x="310.0" y="140.2" font-size="41.5" fill="#fff" stroke="#fff" stroke-width="0.35" textLength="96.6" lengthAdjust="spacingAndGlyphs">9,707</text>
<text class="num" x="310.8" y="140.2" font-size="41.5" fill="#fff" stroke="#fff" stroke-width="0.35" textLength="96.6" lengthAdjust="spacingAndGlyphs">9,707</text>
<text class="num" x="311.6" y="140.2" font-size="41.5" fill="#fff" stroke="#fff" stroke-width="0.35" textLength="96.6" lengthAdjust="spacingAndGlyphs">9,707</text>
<text class="lab" x="440.3" y="82" font-size="16.3" fill="#fff" stroke="#fff" stroke-width="0.3" textLength="86.4" lengthAdjust="spacingAndGlyphs">Chihuahua</text>
<text class="num" x="429.8" y="122.6" font-size="42.1" fill="#fff" stroke="#fff" stroke-width="0.35" textLength="106.6" lengthAdjust="spacingAndGlyphs">9,390</text>
<text class="num" x="430.6" y="122.6" font-size="42.1" fill="#fff" stroke="#fff" stroke-width="0.35" textLength="106.6" lengthAdjust="spacingAndGlyphs">9,390</text>
<text class="num" x="431.4" y="122.6" font-size="42.1" fill="#fff" stroke="#fff" stroke-width="0.35" textLength="106.6" lengthAdjust="spacingAndGlyphs">9,390</text>
<text class="lab" x="604.6" y="66.8" font-size="16.3" fill="#fff" stroke="#fff" stroke-width="0.3" textLength="68.9" lengthAdjust="spacingAndGlyphs">Coahuila</text>
<text class="num" x="588.9" y="104.6" font-size="42.6" fill="#fff" stroke="#fff" stroke-width="0.35" textLength="102.3" lengthAdjust="spacingAndGlyphs">8,402</text>
<text class="num" x="589.7" y="104.6" font-size="42.6" fill="#fff" stroke="#fff" stroke-width="0.35" textLength="102.3" lengthAdjust="spacingAndGlyphs">8,402</text>
<text class="num" x="590.5" y="104.6" font-size="42.6" fill="#fff" stroke="#fff" stroke-width="0.35" textLength="102.3" lengthAdjust="spacingAndGlyphs">8,402</text>
<text class="lab" x="732.6" y="73.3" font-size="16.3" fill="#fff" stroke="#fff" stroke-width="0.3" textLength="89.6" lengthAdjust="spacingAndGlyphs">Tamaulipas</text>
<text class="num" x="728.8" y="110.7" font-size="42.3" fill="#fff" stroke="#fff" stroke-width="0.35" textLength="92.3" lengthAdjust="spacingAndGlyphs">7,748</text>
<text class="num" x="729.6" y="110.7" font-size="42.3" fill="#fff" stroke="#fff" stroke-width="0.35" textLength="92.3" lengthAdjust="spacingAndGlyphs">7,748</text>
<text class="num" x="730.4" y="110.7" font-size="42.3" fill="#fff" stroke="#fff" stroke-width="0.35" textLength="92.3" lengthAdjust="spacingAndGlyphs">7,748</text>
<text class="lab" x="550.6" y="167.8" font-size="16.3" fill="#454545" stroke="#454545" stroke-width="0.3" textLength="68.8" lengthAdjust="spacingAndGlyphs">Durango</text>
<text class="num" x="537.5" y="202.7" font-size="39.5" fill="#454545" stroke="#454545" stroke-width="0.35" textLength="91.1" lengthAdjust="spacingAndGlyphs">3,249</text>
<text class="num" x="538.3" y="202.7" font-size="39.5" fill="#454545" stroke="#454545" stroke-width="0.35" textLength="91.1" lengthAdjust="spacingAndGlyphs">3,249</text>
<text class="num" x="539.1" y="202.7" font-size="39.5" fill="#454545" stroke="#454545" stroke-width="0.35" textLength="91.1" lengthAdjust="spacingAndGlyphs">3,249</text>
<text class="lab" x="713.1" y="204.3" font-size="16.3" fill="#fff" stroke="#fff" stroke-width="0.3" textLength="20.8" lengthAdjust="spacingAndGlyphs">NL</text>
<text class="num" x="658.8" y="245.7" font-size="47.8" fill="#fff" stroke="#fff" stroke-width="0.35" textLength="121.1" lengthAdjust="spacingAndGlyphs">14,410</text>
<text class="num" x="659.6" y="245.7" font-size="47.8" fill="#fff" stroke="#fff" stroke-width="0.35" textLength="121.1" lengthAdjust="spacingAndGlyphs">14,410</text>
<text class="num" x="660.4" y="245.7" font-size="47.8" fill="#fff" stroke="#fff" stroke-width="0.35" textLength="121.1" lengthAdjust="spacingAndGlyphs">14,410</text>
<text class="lab" x="882.8" y="123.9" font-size="16.3" fill="#fff" stroke="#fff" stroke-width="0.3" textLength="31.3" lengthAdjust="spacingAndGlyphs">SLP</text>
<text class="num" x="847.3" y="163.3" font-size="42.3" fill="#fff" stroke="#fff" stroke-width="0.35" textLength="92.8" lengthAdjust="spacingAndGlyphs">7,146</text>
<text class="num" x="848.1" y="163.3" font-size="42.3" fill="#fff" stroke="#fff" stroke-width="0.35" textLength="92.8" lengthAdjust="spacingAndGlyphs">7,146</text>
<text class="num" x="848.9" y="163.3" font-size="42.3" fill="#fff" stroke="#fff" stroke-width="0.35" textLength="92.8" lengthAdjust="spacingAndGlyphs">7,146</text>
<text class="lab" x="880.1" y="238.8" font-size="16.3" fill="#fff" stroke="#fff" stroke-width="0.3" textLength="61.3" lengthAdjust="spacingAndGlyphs">Hidalgo</text>
<text class="num" x="858.8" y="277.7" font-size="41.5" fill="#fff" stroke="#fff" stroke-width="0.35" textLength="91.0" lengthAdjust="spacingAndGlyphs">7,921</text>
<text class="num" x="859.6" y="277.7" font-size="41.5" fill="#fff" stroke="#fff" stroke-width="0.35" textLength="91.0" lengthAdjust="spacingAndGlyphs">7,921</text>
<text class="num" x="860.4" y="277.7" font-size="41.5" fill="#fff" stroke="#fff" stroke-width="0.35" textLength="91.0" lengthAdjust="spacingAndGlyphs">7,921</text>
<text class="lab" x="999.0" y="283.2" font-size="16.3" fill="#fff" stroke="#fff" stroke-width="0.3" textLength="64.6" lengthAdjust="spacingAndGlyphs">Yucatán</text>
<text class="num" x="977.2" y="321.5" font-size="43.3" fill="#fff" stroke="#fff" stroke-width="0.35" textLength="106.6" lengthAdjust="spacingAndGlyphs">6,036</text>
<text class="num" x="978.0" y="321.5" font-size="43.3" fill="#fff" stroke="#fff" stroke-width="0.35" textLength="106.6" lengthAdjust="spacingAndGlyphs">6,036</text>
<text class="num" x="978.8" y="321.5" font-size="43.3" fill="#fff" stroke="#fff" stroke-width="0.35" textLength="106.6" lengthAdjust="spacingAndGlyphs">6,036</text>
<text class="lab" x="791.3" y="317.6" font-size="16.3" fill="#454545" stroke="#454545" stroke-width="0.3" textLength="62.6" lengthAdjust="spacingAndGlyphs">Tlaxcala</text>
<text class="num" x="775.0" y="355.9" font-size="40.8" fill="#454545" stroke="#454545" stroke-width="0.35" textLength="96.6" lengthAdjust="spacingAndGlyphs">2,826</text>
<text class="num" x="775.8" y="355.9" font-size="40.8" fill="#454545" stroke="#454545" stroke-width="0.35" textLength="96.6" lengthAdjust="spacingAndGlyphs">2,826</text>
<text class="num" x="776.6" y="355.9" font-size="40.8" fill="#454545" stroke="#454545" stroke-width="0.35" textLength="96.6" lengthAdjust="spacingAndGlyphs">2,826</text>
<text class="lab" x="792.1" y="458.9" font-size="16.3" fill="#fff" stroke="#fff" stroke-width="0.3" textLength="69.9" lengthAdjust="spacingAndGlyphs">Veracruz</text>
<text class="num" x="766.3" y="501.4" font-size="45.1" fill="#fff" stroke="#fff" stroke-width="0.35" textLength="116.1" lengthAdjust="spacingAndGlyphs">15,051</text>
<text class="num" x="767.1" y="501.4" font-size="45.1" fill="#fff" stroke="#fff" stroke-width="0.35" textLength="116.1" lengthAdjust="spacingAndGlyphs">15,051</text>
<text class="num" x="767.9" y="501.4" font-size="45.1" fill="#fff" stroke="#fff" stroke-width="0.35" textLength="116.1" lengthAdjust="spacingAndGlyphs">15,051</text>
<text class="lab" x="897.8" y="381.4" font-size="16.3" fill="#fff" stroke="#fff" stroke-width="0.3" textLength="54.6" lengthAdjust="spacingAndGlyphs">Puebla</text>
<text class="num" x="861.4" y="420.2" font-size="45.1" fill="#fff" stroke="#fff" stroke-width="0.35" textLength="118.7" lengthAdjust="spacingAndGlyphs">15,927</text>
<text class="num" x="862.2" y="420.2" font-size="45.1" fill="#fff" stroke="#fff" stroke-width="0.35" textLength="118.7" lengthAdjust="spacingAndGlyphs">15,927</text>
<text class="num" x="863.0" y="420.2" font-size="45.1" fill="#fff" stroke="#fff" stroke-width="0.35" textLength="118.7" lengthAdjust="spacingAndGlyphs">15,927</text>
<text class="lab" x="1081.6" y="378.8" font-size="16.3" fill="#fff" stroke="#fff" stroke-width="0.3" textLength="54.6" lengthAdjust="spacingAndGlyphs">Q. Roo</text>
<text class="num" x="1060.3" y="420.7" font-size="42.3" fill="#fff" stroke="#fff" stroke-width="0.35" textLength="96.1" lengthAdjust="spacingAndGlyphs">4,168</text>
<text class="num" x="1061.1" y="420.7" font-size="42.3" fill="#fff" stroke="#fff" stroke-width="0.35" textLength="96.1" lengthAdjust="spacingAndGlyphs">4,168</text>
<text class="num" x="1061.9" y="420.7" font-size="42.3" fill="#fff" stroke="#fff" stroke-width="0.35" textLength="96.1" lengthAdjust="spacingAndGlyphs">4,168</text>
<text class="lab" x="1075.3" y="505.1" font-size="16.3" fill="#454545" stroke="#454545" stroke-width="0.3" textLength="85.2" lengthAdjust="spacingAndGlyphs">Campeche</text>
<text class="num" x="1062.8" y="542.6" font-size="42.1" fill="#454545" stroke="#454545" stroke-width="0.35" textLength="108.1" lengthAdjust="spacingAndGlyphs">2,090</text>
<text class="num" x="1063.6" y="542.6" font-size="42.1" fill="#454545" stroke="#454545" stroke-width="0.35" textLength="108.1" lengthAdjust="spacingAndGlyphs">2,090</text>
<text class="num" x="1064.4" y="542.6" font-size="42.1" fill="#454545" stroke="#454545" stroke-width="0.35" textLength="108.1" lengthAdjust="spacingAndGlyphs">2,090</text>
<text class="lab" x="959.4" y="603.9" font-size="16.3" fill="#454545" stroke="#454545" stroke-width="0.3" textLength="64.1" lengthAdjust="spacingAndGlyphs">Chiapas</text>
<text class="num" x="944.6" y="641.4" font-size="41.5" fill="#454545" stroke="#454545" stroke-width="0.35" textLength="91.0" lengthAdjust="spacingAndGlyphs">2,154</text>
<text class="num" x="945.4" y="641.4" font-size="41.5" fill="#454545" stroke="#454545" stroke-width="0.35" textLength="91.0" lengthAdjust="spacingAndGlyphs">2,154</text>
<text class="num" x="946.2" y="641.4" font-size="41.5" fill="#454545" stroke="#454545" stroke-width="0.35" textLength="91.0" lengthAdjust="spacingAndGlyphs">2,154</text>
<text class="lab" x="1080.3" y="623.9" font-size="16.3" fill="#fff" stroke="#fff" stroke-width="0.3" textLength="64.6" lengthAdjust="spacingAndGlyphs">Tabasco</text>
<text class="num" x="1057.8" y="664.7" font-size="44.5" fill="#fff" stroke="#fff" stroke-width="0.35" textLength="109.8" lengthAdjust="spacingAndGlyphs">6,035</text>
<text class="num" x="1058.6" y="664.7" font-size="44.5" fill="#fff" stroke="#fff" stroke-width="0.35" textLength="109.8" lengthAdjust="spacingAndGlyphs">6,035</text>
<text class="num" x="1059.4" y="664.7" font-size="44.5" fill="#fff" stroke="#fff" stroke-width="0.35" textLength="109.8" lengthAdjust="spacingAndGlyphs">6,035</text>
<text class="lab" x="854.0" y="670.2" font-size="16.3" fill="#fff" stroke="#fff" stroke-width="0.3" textLength="61.1" lengthAdjust="spacingAndGlyphs">Oaxaca</text>
<text class="num" x="841.5" y="706.5" font-size="40.3" fill="#fff" stroke="#fff" stroke-width="0.35" textLength="88.8" lengthAdjust="spacingAndGlyphs">5,545</text>
<text class="num" x="842.3" y="706.5" font-size="40.3" fill="#fff" stroke="#fff" stroke-width="0.35" textLength="88.8" lengthAdjust="spacingAndGlyphs">5,545</text>
<text class="num" x="843.1" y="706.5" font-size="40.3" fill="#fff" stroke="#fff" stroke-width="0.35" textLength="88.8" lengthAdjust="spacingAndGlyphs">5,545</text>
<text class="lab" x="741.5" y="670.9" font-size="16.3" fill="#fff" stroke="#fff" stroke-width="0.3" textLength="63.1" lengthAdjust="spacingAndGlyphs">Morelos</text>
<text class="num" x="722.0" y="706" font-size="38.8" fill="#fff" stroke="#fff" stroke-width="0.35" textLength="98.5" lengthAdjust="spacingAndGlyphs">4,986</text>
<text class="num" x="722.8" y="706" font-size="38.8" fill="#fff" stroke="#fff" stroke-width="0.35" textLength="98.5" lengthAdjust="spacingAndGlyphs">4,986</text>
<text class="num" x="723.6" y="706" font-size="38.8" fill="#fff" stroke="#fff" stroke-width="0.35" textLength="98.5" lengthAdjust="spacingAndGlyphs">4,986</text>
<text class="lab" x="627.5" y="647.7" font-size="16.3" fill="#fff" stroke="#fff" stroke-width="0.3" textLength="70.9" lengthAdjust="spacingAndGlyphs">Guerrero</text>
<text class="num" x="616.3" y="685.2" font-size="41.4" fill="#fff" stroke="#fff" stroke-width="0.35" textLength="97.8" lengthAdjust="spacingAndGlyphs">6,243</text>
<text class="num" x="617.1" y="685.2" font-size="41.4" fill="#fff" stroke="#fff" stroke-width="0.35" textLength="97.8" lengthAdjust="spacingAndGlyphs">6,243</text>
<text class="num" x="617.9" y="685.2" font-size="41.4" fill="#fff" stroke="#fff" stroke-width="0.35" textLength="97.8" lengthAdjust="spacingAndGlyphs">6,243</text>
<text class="lab" x="135.8" y="318.3" font-size="16.3" fill="#fff" stroke="#fff" stroke-width="0.3" textLength="53.9" lengthAdjust="spacingAndGlyphs">Sinaloa</text>
<text class="num" x="115.8" y="355.1" font-size="42.1" fill="#fff" stroke="#fff" stroke-width="0.35" textLength="91.6" lengthAdjust="spacingAndGlyphs">9,318</text>
<text class="num" x="116.6" y="355.1" font-size="42.1" fill="#fff" stroke="#fff" stroke-width="0.35" textLength="91.6" lengthAdjust="spacingAndGlyphs">9,318</text>
<text class="num" x="117.4" y="355.1" font-size="42.1" fill="#fff" stroke="#fff" stroke-width="0.35" textLength="91.6" lengthAdjust="spacingAndGlyphs">9,318</text>
<text class="lab" x="240.3" y="353.9" font-size="16.3" fill="#454545" stroke="#454545" stroke-width="0.3" textLength="73.3" lengthAdjust="spacingAndGlyphs">Zacatecas</text>
<text class="num" x="235.3" y="387.7" font-size="38.3" fill="#454545" stroke="#454545" stroke-width="0.35" textLength="82.3" lengthAdjust="spacingAndGlyphs">3,621</text>
<text class="num" x="236.1" y="387.7" font-size="38.3" fill="#454545" stroke="#454545" stroke-width="0.35" textLength="82.3" lengthAdjust="spacingAndGlyphs">3,621</text>
<text class="num" x="236.9" y="387.7" font-size="38.3" fill="#454545" stroke="#454545" stroke-width="0.35" textLength="82.3" lengthAdjust="spacingAndGlyphs">3,621</text>
<text class="lab" x="164.8" y="421.8" font-size="16.3" fill="#fff" stroke="#fff" stroke-width="0.3" textLength="74.4" lengthAdjust="spacingAndGlyphs">Querétaro</text>
<text class="num" x="156.0" y="459.4" font-size="41.1" fill="#fff" stroke="#fff" stroke-width="0.35" textLength="94.6" lengthAdjust="spacingAndGlyphs">6,038</text>
<text class="num" x="156.8" y="459.4" font-size="41.1" fill="#fff" stroke="#fff" stroke-width="0.35" textLength="94.6" lengthAdjust="spacingAndGlyphs">6,038</text>
<text class="num" x="157.6" y="459.4" font-size="41.1" fill="#fff" stroke="#fff" stroke-width="0.35" textLength="94.6" lengthAdjust="spacingAndGlyphs">6,038</text>
<text class="lab" x="335.6" y="426.8" font-size="16.3" fill="#454545" stroke="#454545" stroke-width="0.3" textLength="30.8" lengthAdjust="spacingAndGlyphs">AGS</text>
<text class="num" x="302.5" y="463.4" font-size="39.5" fill="#454545" stroke="#454545" stroke-width="0.35" textLength="86.1" lengthAdjust="spacingAndGlyphs">3,359</text>
<text class="num" x="303.3" y="463.4" font-size="39.5" fill="#454545" stroke="#454545" stroke-width="0.35" textLength="86.1" lengthAdjust="spacingAndGlyphs">3,359</text>
<text class="num" x="304.1" y="463.4" font-size="39.5" fill="#454545" stroke="#454545" stroke-width="0.35" textLength="86.1" lengthAdjust="spacingAndGlyphs">3,359</text>
<text class="lab" x="431.0" y="435.6" font-size="16.3" fill="#454545" stroke="#454545" stroke-width="0.3" textLength="51.4" lengthAdjust="spacingAndGlyphs">Nayarit</text>
<text class="num" x="415.2" y="471.4" font-size="37.6" fill="#454545" stroke="#454545" stroke-width="0.35" textLength="83.6" lengthAdjust="spacingAndGlyphs">3,120</text>
<text class="num" x="416.0" y="471.4" font-size="37.6" fill="#454545" stroke="#454545" stroke-width="0.35" textLength="83.6" lengthAdjust="spacingAndGlyphs">3,120</text>
<text class="num" x="416.8" y="471.4" font-size="37.6" fill="#454545" stroke="#454545" stroke-width="0.35" textLength="83.6" lengthAdjust="spacingAndGlyphs">3,120</text>
<text class="lab" x="454.6" y="521.5" font-size="16.3" fill="#454545" stroke="#454545" stroke-width="0.3" textLength="49.5" lengthAdjust="spacingAndGlyphs">Colima</text>
<text class="num" x="436.5" y="552.3" font-size="38.0" fill="#454545" stroke="#454545" stroke-width="0.35" textLength="85.3" lengthAdjust="spacingAndGlyphs">2,283</text>
<text class="num" x="437.3" y="552.3" font-size="38.0" fill="#454545" stroke="#454545" stroke-width="0.35" textLength="85.3" lengthAdjust="spacingAndGlyphs">2,283</text>
<text class="num" x="438.1" y="552.3" font-size="38.0" fill="#454545" stroke="#454545" stroke-width="0.35" textLength="85.3" lengthAdjust="spacingAndGlyphs">2,283</text>
<text class="lab" x="42.0" y="442.6" font-size="16.3" fill="#fff" stroke="#fff" stroke-width="0.3" textLength="84.5" lengthAdjust="spacingAndGlyphs">Guanajuato</text>
<text class="num" x="31.3" y="477.2" font-size="40.0" fill="#fff" stroke="#fff" stroke-width="0.35" textLength="104.8" lengthAdjust="spacingAndGlyphs">14,037</text>
<text class="num" x="32.1" y="477.2" font-size="40.0" fill="#fff" stroke="#fff" stroke-width="0.35" textLength="104.8" lengthAdjust="spacingAndGlyphs">14,037</text>
<text class="num" x="32.9" y="477.2" font-size="40.0" fill="#fff" stroke="#fff" stroke-width="0.35" textLength="104.8" lengthAdjust="spacingAndGlyphs">14,037</text>
<text class="lab" x="107.1" y="547.1" font-size="16.3" fill="#fff" stroke="#fff" stroke-width="0.3" textLength="53.1" lengthAdjust="spacingAndGlyphs">Jalisco</text>
<text class="num" x="70.0" y="589.7" font-size="46.3" fill="#fff" stroke="#fff" stroke-width="0.35" textLength="123.7" lengthAdjust="spacingAndGlyphs">18,230</text>
<text class="num" x="70.8" y="589.7" font-size="46.3" fill="#fff" stroke="#fff" stroke-width="0.35" textLength="123.7" lengthAdjust="spacingAndGlyphs">18,230</text>
<text class="num" x="71.6" y="589.7" font-size="46.3" fill="#fff" stroke="#fff" stroke-width="0.35" textLength="123.7" lengthAdjust="spacingAndGlyphs">18,230</text>
<text class="lab" x="221.5" y="541.4" font-size="16.3" fill="#fff" stroke="#fff" stroke-width="0.3" textLength="85.9" lengthAdjust="spacingAndGlyphs">Michoacán</text>
<text class="num" x="217.3" y="577.7" font-size="39.5" fill="#fff" stroke="#fff" stroke-width="0.35" textLength="90.3" lengthAdjust="spacingAndGlyphs">8,180</text>
<text class="num" x="218.1" y="577.7" font-size="39.5" fill="#fff" stroke="#fff" stroke-width="0.35" textLength="90.3" lengthAdjust="spacingAndGlyphs">8,180</text>
<text class="num" x="218.9" y="577.7" font-size="39.5" fill="#fff" stroke="#fff" stroke-width="0.35" textLength="90.3" lengthAdjust="spacingAndGlyphs">8,180</text>
<text class="lab" x="338.8" y="591.4" font-size="16.3" fill="#fff" stroke="#fff" stroke-width="0.3" textLength="95.2" lengthAdjust="spacingAndGlyphs">Edo. México</text>
<text class="num" x="317.5" y="630.2" font-size="45.3" fill="#fff" stroke="#fff" stroke-width="0.35" textLength="132.4" lengthAdjust="spacingAndGlyphs">33,646</text>
<text class="num" x="318.3" y="630.2" font-size="45.3" fill="#fff" stroke="#fff" stroke-width="0.35" textLength="132.4" lengthAdjust="spacingAndGlyphs">33,646</text>
<text class="num" x="319.1" y="630.2" font-size="45.3" fill="#fff" stroke="#fff" stroke-width="0.35" textLength="132.4" lengthAdjust="spacingAndGlyphs">33,646</text>
<text class="lab" x="507.6" y="628.1" font-size="20.7" fill="#fff" stroke="#fff" stroke-width="0.3" textLength="49.6" lengthAdjust="spacingAndGlyphs">CdMx</text>
<text class="num" x="458.0" y="675.1" font-size="51.9" fill="#fff" stroke="#fff" stroke-width="0.35" textLength="136.9" lengthAdjust="spacingAndGlyphs">53,927</text>
<text class="num" x="458.8" y="675.1" font-size="51.9" fill="#fff" stroke="#fff" stroke-width="0.35" textLength="136.9" lengthAdjust="spacingAndGlyphs">53,927</text>
<text class="num" x="459.6" y="675.1" font-size="51.9" fill="#fff" stroke="#fff" stroke-width="0.35" textLength="136.9" lengthAdjust="spacingAndGlyphs">53,927</text>
</g>
<circle cx="1151.3" cy="48.1" r="28.6" fill="#d2312d"/>
<g transform="translate(1110,10) scale(0.100376)" fill="#fff">
<polygon points="281,200 303,200 266,528 236,528"/>
<polygon points="281,200 338,200 446,462 418,540 398,540"/>
<polygon points="410,540 424,540 548,200 528,200 404,505"/>
<polygon points="522,200 574,200 618,528 552,528"/>
<path d="M196,540 V531 Q232,528 240,512 L268,512 Q272,528 302,531 V540 Z"/>
<path d="M498,540 V531 Q540,528 552,508 L616,508 Q622,528 644,531 V540 Z"/>
</g>
<circle cx="1176.5" cy="23" r="2.7" fill="none" stroke="#d2312d" stroke-width="0.9"/>
<text x="1176.5" y="24.7" font-size="4.4" font-weight="bold" fill="#d2312d" text-anchor="middle">R</text>

<clipPath id="bx"><path d="M1200 105 H1042 a9 9 0 0 0 -9 9 V209.4 a9 9 0 0 0 9 9 H1200 Z"/></clipPath>
<path d="M1200 105 H1042 a9 9 0 0 0 -9 9 V209.4 a9 9 0 0 0 9 9 H1200 Z" fill="#a9a9a9"/>
<g clip-path="url(#bx)" fill="#b3b3b3" stroke="#b3b3b3">
<circle cx="1204" cy="176" r="81" stroke="none"/>
<g stroke-width="5" stroke-linecap="butt" fill="none">
<path d="M1128 152 L1112 150"/><path d="M1124 184 L1114 184"/><path d="M1133 214 L1124 220"/><path d="M1181 100 L1181 118"/>
</g>
<ellipse cx="1110" cy="152" rx="5" ry="7" stroke="none"/><ellipse cx="1112" cy="184" rx="4" ry="6" stroke="none"/><ellipse cx="1122" cy="221" rx="5" ry="6" stroke="none"/>
<rect x="1166" y="105" width="30" height="6" stroke="none"/>
</g>
<text class="lab" x="1043.9" y="129.9" font-size="15.2" fill="#fff" stroke="#fff" stroke-width="0.35" textLength="113.5" lengthAdjust="spacingAndGlyphs">DEFUNCIONES</text>
<text class="lab" x="1043.9" y="149.6" font-size="15.2" fill="#fff" stroke="#fff" stroke-width="0.35" textLength="104.4" lengthAdjust="spacingAndGlyphs">AUMULADAS:</text>
<line x1="1038" y1="159.2" x2="1173.6" y2="159.2" stroke="#d0d0d0" stroke-width="0.9" stroke-dasharray="1 1"/>
<rect x="1033" y="171.8" width="9.6" height="26.6" fill="#d8312f"/>
<text class="lab" x="1046.7" y="198.4" font-size="34.6" fill="#161616" stroke="#161616" stroke-width="1.1" textLength="142.3" lengthAdjust="spacingAndGlyphs">308,829</text>

<rect x="0" y="668.1" width="26.2" height="29.2" fill="#c1c1c1"/>
<text x="30" y="681.2" font-size="16" font-weight="bold" fill="#1c1c1c" textLength="221.4" lengthAdjust="spacingAndGlyphs">Cifras hasta el corte más reciente de la</text>
<text x="30" y="696.8" font-size="16" font-weight="bold" fill="#1c1c1c" textLength="306.8" lengthAdjust="spacingAndGlyphs">Secretaría de Salud, del 4 de febrero a las 18:00 horas</text>

</svg></body></html>
